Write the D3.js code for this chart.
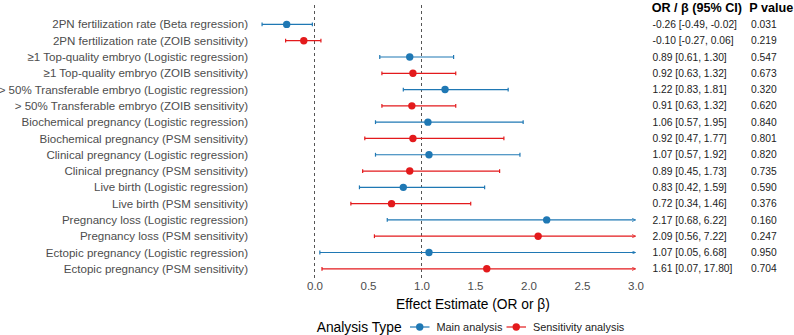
<!DOCTYPE html>
<html>
<head>
<meta charset="utf-8">
<script src="https://cdn.jsdelivr.net/npm/d3@7"></script>
<style>
  html, body { margin: 0; padding: 0; background: #fff; }
  svg { display: block; font-family: "Liberation Sans", Arial, sans-serif; }
</style>
</head>
<body>
<svg id="chart" width="794" height="335"></svg>
<script>
// Data
const labels = [
    "2PN fertilization rate (Beta regression)",
    "2PN fertilization rate (ZOIB sensitivity)",
    "≥1 Top-quality embryo (Logistic regression)",
    "≥1 Top-quality embryo (ZOIB sensitivity)",
    "> 50% Transferable embryo (Logistic regression)",
    "> 50% Transferable embryo (ZOIB sensitivity)",
    "Biochemical pregnancy (Logistic regression)",
    "Biochemical pregnancy (PSM sensitivity)",
    "Clinical pregnancy (Logistic regression)",
    "Clinical pregnancy (PSM sensitivity)",
    "Live birth (Logistic regression)",
    "Live birth (PSM sensitivity)",
    "Pregnancy loss (Logistic regression)",
    "Pregnancy loss (PSM sensitivity)",
    "Ectopic pregnancy (Logistic regression)",
    "Ectopic pregnancy (PSM sensitivity)"
];
const estimates = [-0.26, -0.10, 0.89, 0.92, 1.22, 0.91, 1.06, 0.92, 1.07, 0.89, 0.83, 0.72, 2.17, 2.09, 1.07, 1.61];
const lower     = [-0.49, -0.27, 0.61, 0.63, 0.83, 0.63, 0.57, 0.47, 0.57, 0.45, 0.42, 0.34, 0.68, 0.56, 0.05, 0.07];
const upper     = [-0.02, 0.06, 1.30, 1.32, 1.81, 1.32, 1.95, 1.77, 1.92, 1.73, 1.59, 1.46, 6.22, 7.22, 6.68, 17.80];
const pValues   = ["0.031", "0.219", "0.547", "0.673", "0.320", "0.620", "0.840", "0.801",
                   "0.820", "0.735", "0.590", "0.376", "0.160", "0.247", "0.950", "0.704"];
const analysisType = ["Main analysis", "Sensitivity analysis"];
const rowType = labels.map((_, i) => analysisType[i % 2]);
const xTicks = [0, 0.5, 1, 1.5, 2, 2.5, 3];
const refLines = [0, 1];
const xCap = 3;

const colors = { "Main analysis": "#1f78b4", "Sensitivity analysis": "#e31a1c" };
const fmt = (v) => v.toFixed(2);

const svg = d3.select("#chart");

// Font size that makes the first text of a selection span the wanted width
const fitSize = (sel, width) => {
    const node = sel.node();
    const fs = parseFloat(d3.select(node).attr("font-size"));
    return fs * width / node.getComputedTextLength();
};
const fitFont = (sel, width) => {
    const size = fitSize(sel, width);
    sel.attr("font-size", size);
    return size;
};

// Scales
const x = d3.scaleLinear().domain([0, 3]).range([314.5, 635.5]);
const y = d3.scalePoint().domain(d3.range(labels.length)).range([24.4, 268.8]);

const panelTop = 5, panelBottom = 279;

// Reference lines
svg.selectAll("line.ref")
    .data(refLines)
    .enter().append("line")
    .attr("class", "ref")
    .attr("x1", d => x(d)).attr("x2", d => x(d))
    .attr("y1", panelTop).attr("y2", panelBottom)
    .attr("stroke", "#555")
    .attr("stroke-width", 1)
    .attr("stroke-dasharray", "3,3");

// Arrow markers for truncated intervals
const defs = svg.append("defs");
analysisType.forEach((t, i) => {
    defs.append("marker")
        .attr("id", `arrow${i}`)
        .attr("viewBox", "0 0 10 10")
        .attr("refX", 10).attr("refY", 5)
        .attr("markerWidth", 4.3).attr("markerHeight", 3.6)
        .attr("markerUnits", "userSpaceOnUse")
        .attr("orient", "auto")
        .append("path")
        .attr("d", "M0,0 L10,5 L0,10")
        .attr("fill", "none")
        .attr("stroke", colors[t])
        .attr("stroke-width", 2);
});

const rows = svg.selectAll("g.row")
    .data(labels.map((l, i) => i))
    .enter().append("g")
    .attr("class", "row");

// Whiskers
rows.append("line")
    .attr("x1", i => x(lower[i]))
    .attr("x2", i => x(Math.min(upper[i], xCap)))
    .attr("y1", i => y(i)).attr("y2", i => y(i))
    .attr("stroke", i => colors[rowType[i]])
    .attr("stroke-width", 1.2)
    .attr("marker-end", i => upper[i] > xCap ? `url(#arrow${analysisType.indexOf(rowType[i])})` : null);

// Caps
rows.append("line")
    .attr("x1", i => x(lower[i])).attr("x2", i => x(lower[i]))
    .attr("y1", i => y(i) - 1.9).attr("y2", i => y(i) + 1.9)
    .attr("stroke", i => colors[rowType[i]])
    .attr("stroke-width", 1.2);
rows.filter(i => upper[i] <= xCap).append("line")
    .attr("x1", i => x(upper[i])).attr("x2", i => x(upper[i]))
    .attr("y1", i => y(i) - 1.9).attr("y2", i => y(i) + 1.9)
    .attr("stroke", i => colors[rowType[i]])
    .attr("stroke-width", 1.2);

// Points
rows.append("circle")
    .attr("cx", i => x(estimates[i]))
    .attr("cy", i => y(i))
    .attr("r", 3.7)
    .attr("fill", i => colors[rowType[i]]);

// Row labels
const rowLabels = rows.append("text")
    .attr("x", 248)
    .attr("y", i => y(i))
    .attr("dy", "0.35em")
    .attr("text-anchor", "end")
    .attr("font-size", 11)
    .attr("fill", "#4d4d4d")
    .text(i => labels[i]);
const axisSize = fitFont(rowLabels, 196);

// Table columns
const ciText = rows.append("text")
    .attr("x", 652.5)
    .attr("y", i => y(i))
    .attr("dy", "0.35em")
    .attr("font-size", 10)
    .attr("fill", "#222")
    .text(i => `${fmt(estimates[i])} [${fmt(lower[i])}, ${fmt(upper[i])}]`);
const tableSize = fitFont(ciText, 84.6);

rows.append("text")
    .attr("x", 751)
    .attr("y", i => y(i))
    .attr("dy", "0.35em")
    .attr("font-size", tableSize)
    .attr("fill", "#222")
    .text(i => pValues[i]);

// Table header
const head1 = svg.append("text")
    .attr("x", 651.7).attr("y", 11.5)
    .attr("font-size", 11).attr("font-weight", "bold").attr("fill", "#000")
    .text("OR / β (95% CI)");
const head2 = svg.append("text")
    .attr("x", 793.3).attr("y", 11.5)
    .attr("text-anchor", "end")
    .attr("font-size", 11).attr("font-weight", "bold").attr("fill", "#000")
    .text("P value");
const headSize = (fitSize(head1, 96.6) + fitSize(head2, 41)) / 2;
head1.attr("font-size", headSize);
head2.attr("font-size", headSize);

// X axis
const xAxis = d3.axisBottom(x).tickValues(xTicks).tickFormat(d3.format(".1f")).tickSize(0).tickPadding(3);
const gx = svg.append("g")
    .attr("transform", `translate(0, ${panelBottom})`)
    .call(xAxis);
gx.select(".domain").remove();
gx.selectAll("text").attr("font-size", axisSize).attr("fill", "#4d4d4d").attr("font-family", null);

const xTitle = svg.append("text")
    .attr("x", 473).attr("y", 304.3).attr("dy", "0.35em")
    .attr("text-anchor", "middle")
    .attr("font-size", 13).attr("fill", "#000")
    .text("Effect Estimate (OR or β)");
fitFont(xTitle, 154);

// Legend
const legY = 327;
const legend = svg.append("g");
const legTitle = legend.append("text")
    .attr("x", 316.7).attr("y", legY).attr("dy", "0.35em")
    .attr("font-size", 13).attr("fill", "#000")
    .text("Analysis Type");
fitFont(legTitle, 85);

const legKeys = [410, 506.5];
const legItems = legend.selectAll("g.item")
    .data(analysisType)
    .enter().append("g")
    .attr("class", "item")
    .attr("transform", (d, i) => `translate(${legKeys[i]}, ${legY})`);
legItems.append("line")
    .attr("x1", 0).attr("x2", 19.5)
    .attr("stroke", d => colors[d]).attr("stroke-width", 1.2);
legItems.append("circle")
    .attr("cx", 9.75).attr("r", 3.7)
    .attr("fill", d => colors[d]);
const legText = legItems.append("text")
    .attr("x", 26.5).attr("dy", "0.35em")
    .attr("font-size", 11).attr("fill", "#222")
    .text(d => d);
fitFont(legText, 66);
</script>
</body>
</html>
